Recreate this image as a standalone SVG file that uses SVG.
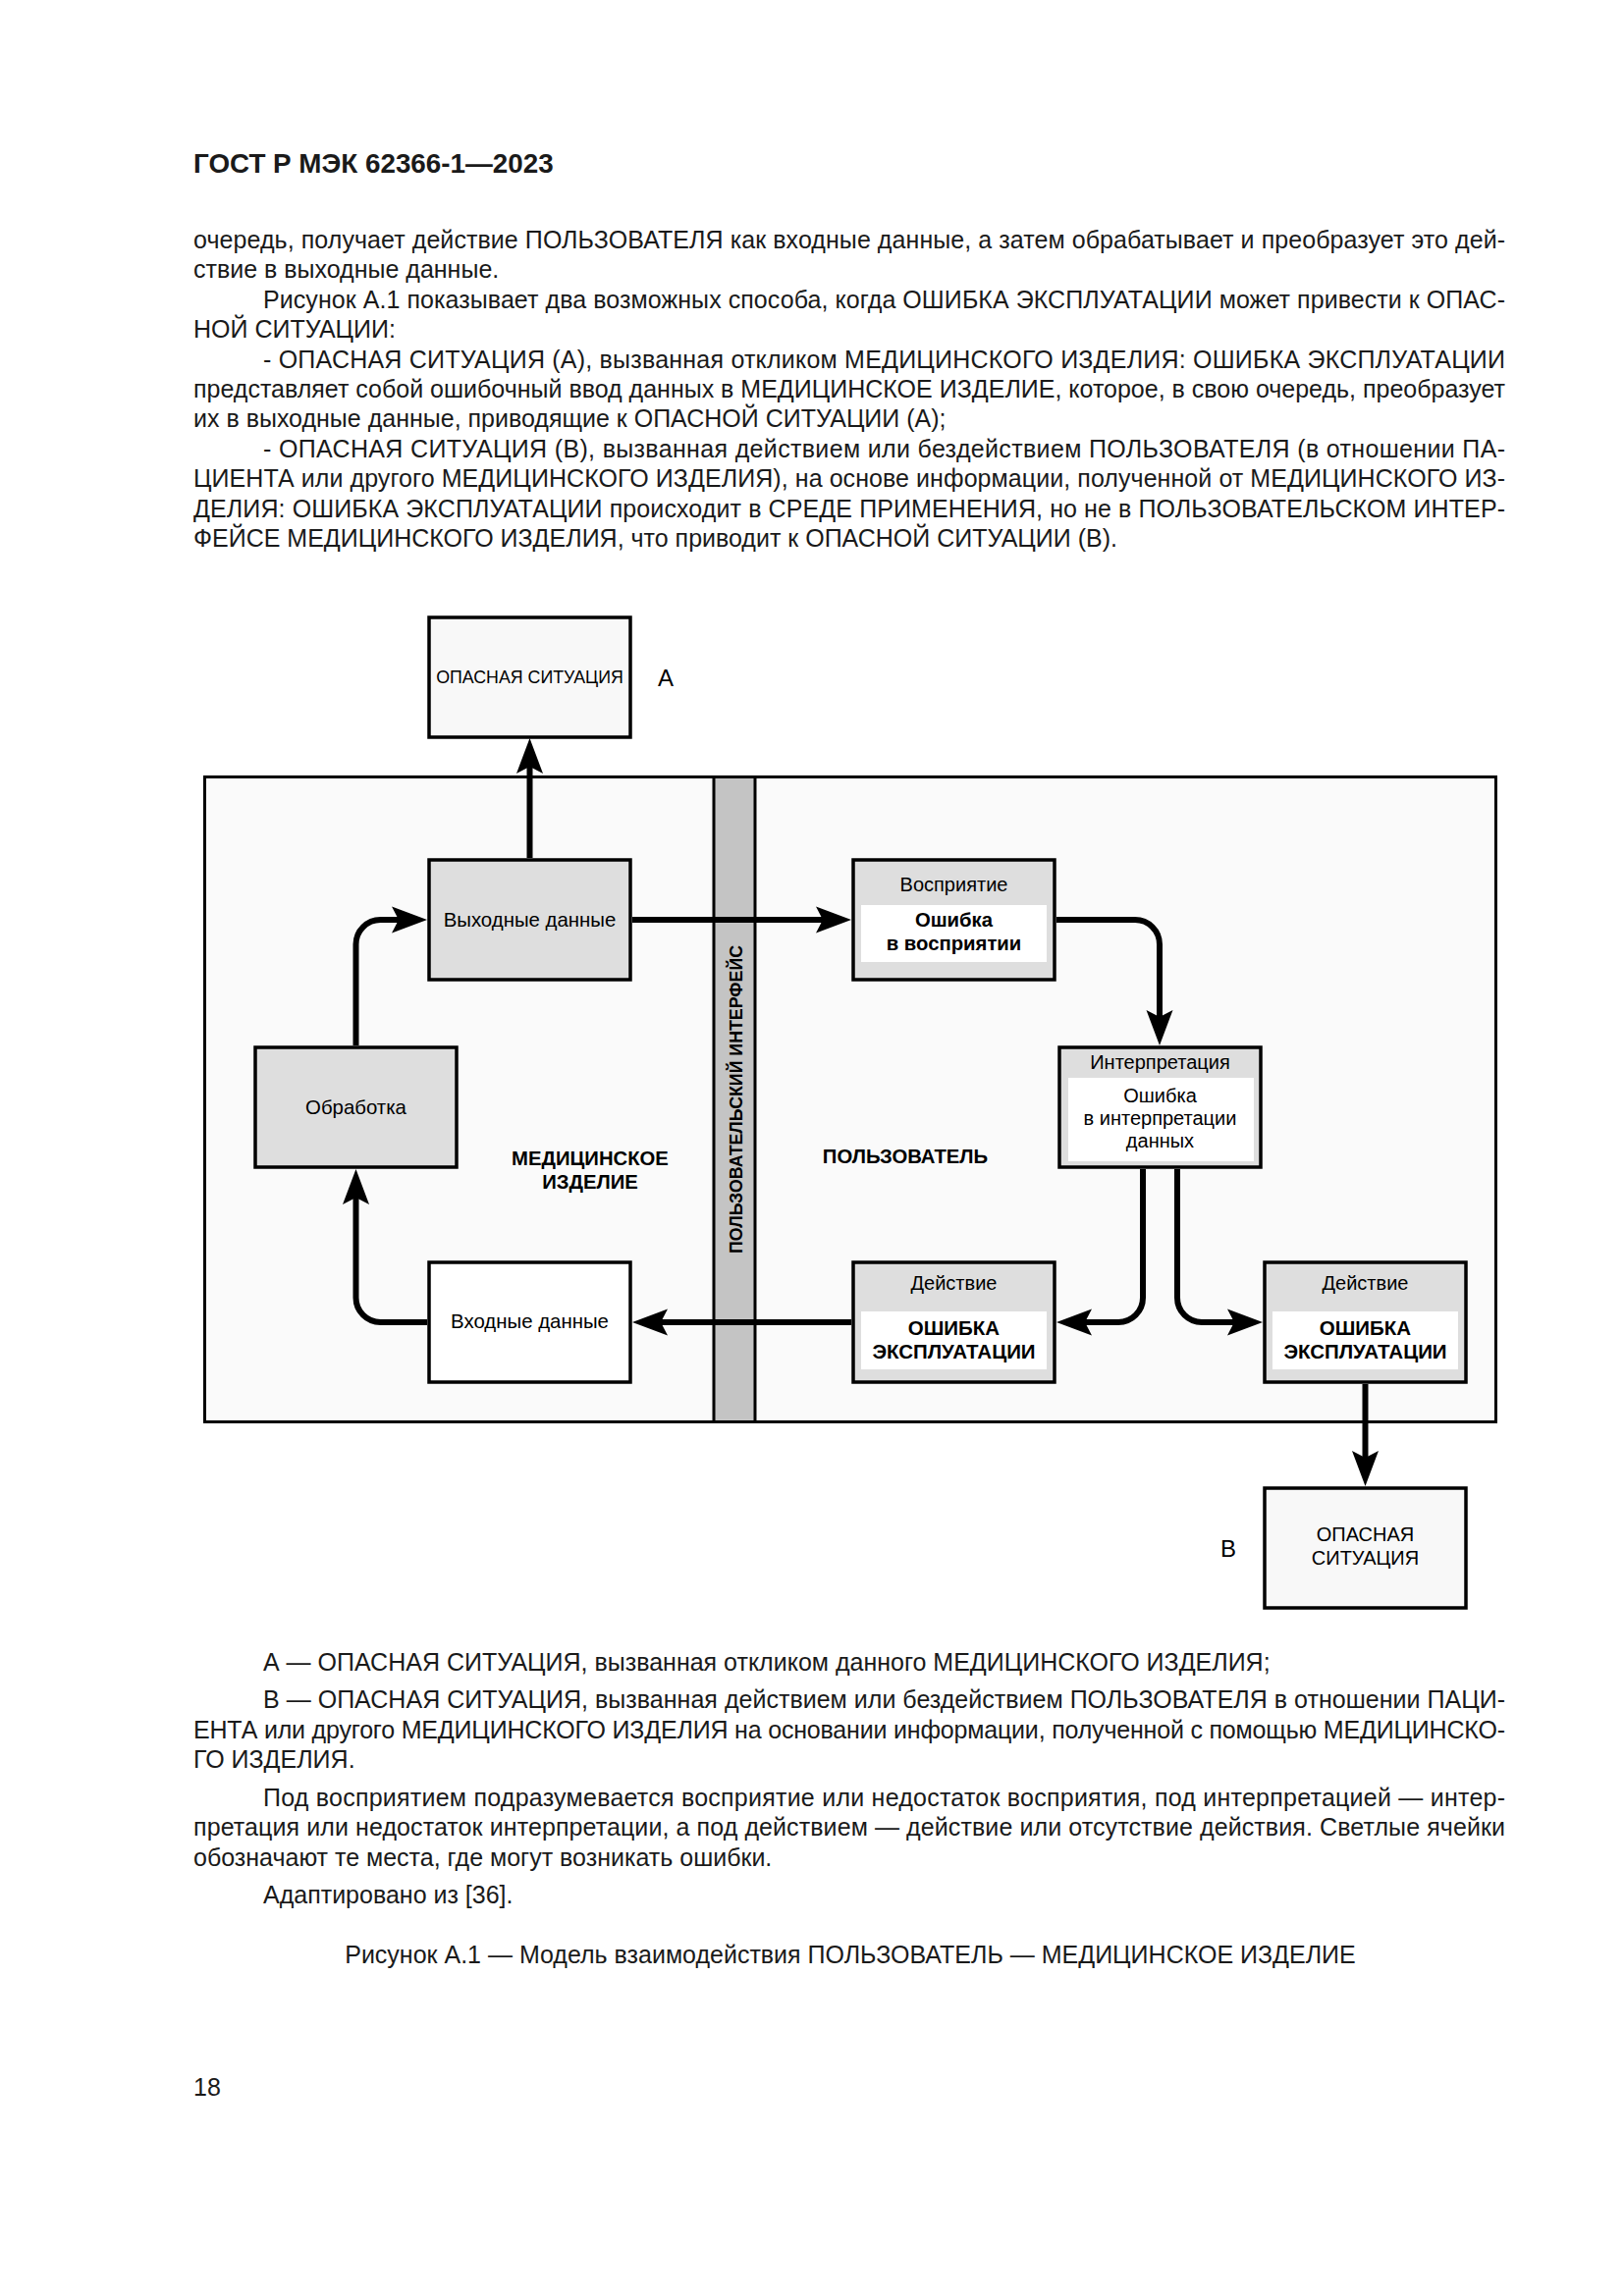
<svg xmlns="http://www.w3.org/2000/svg" width="1654" height="2339" viewBox="0 0 1654 2339">
<defs>
<style>
.t{font-family:"Liberation Sans",Arial,sans-serif;fill:#1a1a1a}
.body{font-size:25px}
.hdr{font-size:27.8px;font-weight:bold}
.lbl{font-family:"Liberation Sans",Arial,sans-serif;font-size:20px;fill:#000;text-anchor:middle}
.b{font-weight:bold}
.box{stroke:#000;stroke-width:3.5}
.grey{fill:#dedede}
.white{fill:#ffffff}
.light{fill:#f8f8f8}
.inner{fill:#ffffff;stroke:none}
.con{fill:none;stroke:#000;stroke-width:6;marker-end:url(#arrow)}
</style>
<marker id="arrow" markerUnits="userSpaceOnUse" viewBox="0 -15 37 30" markerWidth="37" markerHeight="30" refX="10" refY="0" orient="auto">
<path d="M36,0 L0,-13.5 L7,0 L0,13.5 Z" fill="#000"/>
</marker>
</defs>
<rect width="1654" height="2339" fill="#ffffff"/>

<g id="page-text" class="t">
<text class="hdr" x="197" y="176">ГОСТ Р МЭК 62366-1—2023</text>
<text class="body" x="197" y="253" textLength="1336" lengthAdjust="spacing">очередь, получает действие ПОЛЬЗОВАТЕЛЯ как входные данные, а затем обрабатывает и преобразует это дей-</text>
<text class="body" x="197" y="283">ствие в выходные данные.</text>
<text class="body" x="268" y="314" textLength="1265" lengthAdjust="spacing">Рисунок А.1 показывает два возможных способа, когда ОШИБКА ЭКСПЛУАТАЦИИ может привести к ОПАС-</text>
<text class="body" x="197" y="344">НОЙ СИТУАЦИИ:</text>
<text class="body" x="268" y="375" textLength="1265" lengthAdjust="spacing">- ОПАСНАЯ СИТУАЦИЯ (А), вызванная откликом МЕДИЦИНСКОГО ИЗДЕЛИЯ: ОШИБКА ЭКСПЛУАТАЦИИ</text>
<text class="body" x="197" y="405" textLength="1336" lengthAdjust="spacing">представляет собой ошибочный ввод данных в МЕДИЦИНСКОЕ ИЗДЕЛИЕ, которое, в свою очередь, преобразует</text>
<text class="body" x="197" y="435">их в выходные данные, приводящие к ОПАСНОЙ СИТУАЦИИ (А);</text>
<text class="body" x="268" y="466" textLength="1265" lengthAdjust="spacing">- ОПАСНАЯ СИТУАЦИЯ (В), вызванная действием или бездействием ПОЛЬЗОВАТЕЛЯ (в отношении ПА-</text>
<text class="body" x="197" y="496" textLength="1336" lengthAdjust="spacing">ЦИЕНТА или другого МЕДИЦИНСКОГО ИЗДЕЛИЯ), на основе информации, полученной от МЕДИЦИНСКОГО ИЗ-</text>
<text class="body" x="197" y="527" textLength="1336" lengthAdjust="spacing">ДЕЛИЯ: ОШИБКА ЭКСПЛУАТАЦИИ происходит в СРЕДЕ ПРИМЕНЕНИЯ, но не в ПОЛЬЗОВАТЕЛЬСКОМ ИНТЕР-</text>
<text class="body" x="197" y="557">ФЕЙСЕ МЕДИЦИНСКОГО ИЗДЕЛИЯ, что приводит к ОПАСНОЙ СИТУАЦИИ (В).</text>

<text class="body" x="268" y="1702">А — ОПАСНАЯ СИТУАЦИЯ, вызванная откликом данного МЕДИЦИНСКОГО ИЗДЕЛИЯ;</text>
<text class="body" x="268" y="1740" textLength="1265" lengthAdjust="spacing">В — ОПАСНАЯ СИТУАЦИЯ, вызванная действием или бездействием ПОЛЬЗОВАТЕЛЯ в отношении ПАЦИ-</text>
<text class="body" x="197" y="1771" textLength="1336" lengthAdjust="spacing">ЕНТА или другого МЕДИЦИНСКОГО ИЗДЕЛИЯ на основании информации, полученной с помощью МЕДИЦИНСКО-</text>
<text class="body" x="197" y="1801">ГО ИЗДЕЛИЯ.</text>
<text class="body" x="268" y="1840" textLength="1265" lengthAdjust="spacing">Под восприятием подразумевается восприятие или недостаток восприятия, под интерпретацией — интер-</text>
<text class="body" x="197" y="1870" textLength="1336" lengthAdjust="spacing">претация или недостаток интерпретации, а под действием — действие или отсутствие действия. Светлые ячейки</text>
<text class="body" x="197" y="1901">обозначают те места, где могут возникать ошибки.</text>
<text class="body" x="268" y="1939">Адаптировано из [36].</text>
<text class="body" x="866" y="2000" text-anchor="middle">Рисунок А.1 — Модель взаимодействия ПОЛЬЗОВАТЕЛЬ — МЕДИЦИНСКОЕ ИЗДЕЛИЕ</text>
<text class="body" x="197" y="2135">18</text>
</g>

<g id="frame">
<rect x="208.5" y="791.5" width="1315" height="657" fill="#fafafa" stroke="#000" stroke-width="3"/>
<rect x="727" y="791.5" width="42" height="657" fill="#c4c4c4" stroke="#000" stroke-width="3"/>
<text class="lbl b" transform="translate(756,1120) rotate(-90)" style="font-size:17.8px">ПОЛЬЗОВАТЕЛЬСКИЙ ИНТЕРФЕЙС</text>
<text class="lbl b" x="601" y="1187" style="font-size:20.3px">МЕДИЦИНСКОЕ</text>
<text class="lbl b" x="601" y="1211" style="font-size:20.3px">ИЗДЕЛИЕ</text>
<text class="lbl b" x="922" y="1185" style="font-size:20.3px">ПОЛЬЗОВАТЕЛЬ</text>
<text class="lbl" x="678" y="699" style="font-size:24px">А</text>
<text class="lbl" x="1251" y="1586" style="font-size:24px">В</text>
</g>

<g id="node-hazard-a">
<rect class="box light" x="437" y="629" width="205" height="122"/>
<text class="lbl" x="539.5" y="696" style="font-size:17.8px">ОПАСНАЯ СИТУАЦИЯ</text>
</g>
<g id="node-output">
<rect class="box grey" x="437" y="876" width="205" height="122"/>
<text class="lbl" x="539.5" y="944" style="font-size:20.4px">Выходные данные</text>
</g>
<g id="node-processing">
<rect class="box grey" x="260" y="1067" width="205" height="122"/>
<text class="lbl" x="362.5" y="1135" style="font-size:20.4px">Обработка</text>
</g>
<g id="node-input">
<rect class="box white" x="437" y="1286" width="205" height="122"/>
<text class="lbl" x="539.5" y="1353" style="font-size:20.4px">Входные данные</text>
</g>
<g id="node-perception">
<rect class="box grey" x="869" y="876" width="205" height="122"/>
<rect class="inner" x="877" y="922" width="189" height="58"/>
<text class="lbl" x="971.5" y="908">Восприятие</text>
<text class="lbl b" x="971.5" y="944" style="font-size:20.3px">Ошибка</text>
<text class="lbl b" x="971.5" y="968" style="font-size:20.3px">в восприятии</text>
</g>
<g id="node-interpretation">
<rect class="box grey" x="1079" y="1067" width="205" height="122"/>
<rect class="inner" x="1088" y="1098" width="189" height="85"/>
<text class="lbl" x="1181.5" y="1089">Интерпретация</text>
<text class="lbl" x="1181.5" y="1123">Ошибка</text>
<text class="lbl" x="1181.5" y="1146">в интерпретации</text>
<text class="lbl" x="1181.5" y="1169">данных</text>
</g>
<g id="node-action-left">
<rect class="box grey" x="869" y="1286" width="205" height="122"/>
<rect class="inner" x="877" y="1336" width="189" height="59"/>
<text class="lbl" x="971.5" y="1314">Действие</text>
<text class="lbl b" x="971.5" y="1360" style="font-size:20.5px">ОШИБКА</text>
<text class="lbl b" x="971.5" y="1384" style="font-size:20.5px">ЭКСПЛУАТАЦИИ</text>
</g>
<g id="node-action-right">
<rect class="box grey" x="1288" y="1286" width="205" height="122"/>
<rect class="inner" x="1296" y="1336" width="189" height="59"/>
<text class="lbl" x="1390.5" y="1314">Действие</text>
<text class="lbl b" x="1390.5" y="1360" style="font-size:20.5px">ОШИБКА</text>
<text class="lbl b" x="1390.5" y="1384" style="font-size:20.5px">ЭКСПЛУАТАЦИИ</text>
</g>
<g id="node-hazard-b">
<rect class="box light" x="1288" y="1516" width="205" height="122"/>
<text class="lbl" x="1390.5" y="1570">ОПАСНАЯ</text>
<text class="lbl" x="1390.5" y="1594">СИТУАЦИЯ</text>
</g>

<g id="connectors">
<path class="con" d="M539.5,874 V778"/>
<path class="con" d="M362.5,1065 V962 A25,25 0 0 1 387.5,937 H409"/>
<path class="con" d="M435,1347 H387.5 A25,25 0 0 1 362.5,1322 V1217"/>
<path class="con" d="M644,937 H841"/>
<path class="con" d="M1076,937 H1156 A25,25 0 0 1 1181,962 V1039"/>
<path class="con" d="M1164,1191 V1322 A25,25 0 0 1 1139,1347 H1102"/>
<path class="con" d="M1199,1191 V1322 A25,25 0 0 0 1224,1347 H1260"/>
<path class="con" d="M867,1347 H670"/>
<path class="con" d="M1390.5,1410 V1488"/>
</g>
</svg>
